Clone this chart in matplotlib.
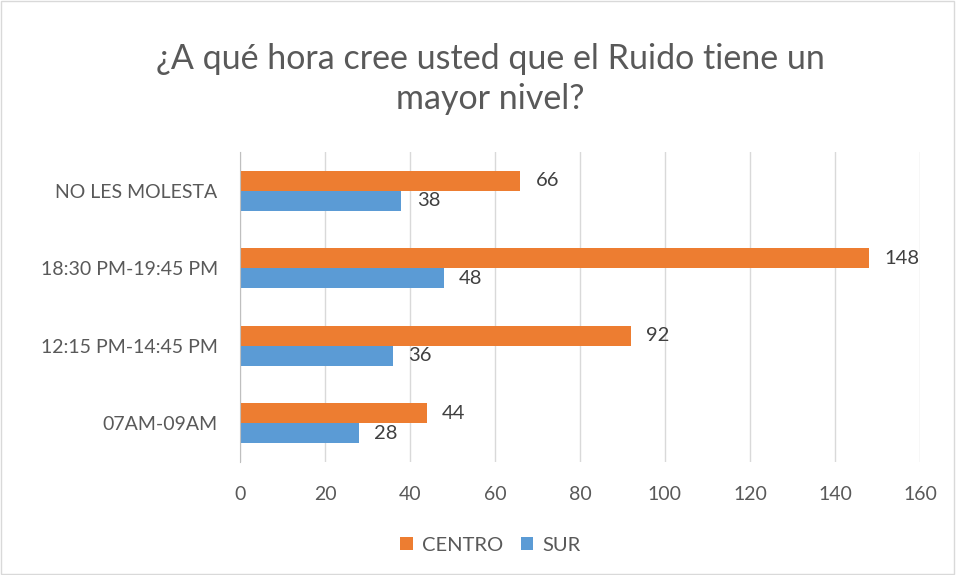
import numpy as np
import matplotlib.pyplot as plt
from matplotlib.patches import Rectangle

plt.rcParams['font.family'] = ['Lato', 'DejaVu Sans']

categorias = ['07AM-09AM', '12:15 PM-14:45 PM', '18:30 PM-19:45 PM', 'NO LES MOLESTA']
centro = [44, 92, 148, 66]
sur = [28, 36, 48, 38]
ticks_x = [0, 20, 40, 60, 80, 100, 120, 140, 160]

fig = plt.figure(figsize=(9.56, 5.75), dpi=100)
fig.patch.set_facecolor('white')
# borde gris del grafico
fig.patches.append(Rectangle((0.001, 0.001), 0.997, 0.997, transform=fig.transFigure,
                             fill=False, edgecolor='#D9D9D9', linewidth=1))

ax = fig.add_axes([0.251, 0.1965, 0.7113, 0.539])
y = np.arange(len(categorias))
h = 0.258
b1 = ax.barh(y + h / 2, centro, height=h, color='#ED7D31', label='CENTRO', zorder=3)
b2 = ax.barh(y - h / 2, sur, height=h, color='#5B9BD5', label='SUR', zorder=3)

# etiquetas de datos
for barras in (b1, b2):
    for r in barras:
        w = r.get_width()
        ax.text(w + 3.6, r.get_y() + r.get_height() / 2, '%d' % w,
                ha='left', va='center', fontsize=14.5, color='#404040')

ax.set_xlim(0, 160)
ax.set_ylim(-0.5, len(categorias) - 0.5)
ax.set_xticks(ticks_x)
ax.set_yticks(y)
ax.set_yticklabels(categorias)
ax.tick_params(axis='both', length=0, labelsize=14, colors='#595959')
ax.tick_params(axis='x', pad=17)
ax.tick_params(axis='y', pad=16)
ax.grid(axis='x', color='#D9D9D9', linewidth=1, zorder=0)
for s in ['top', 'right', 'bottom']:
    ax.spines[s].set_visible(False)
ax.spines['left'].set_color('#BFBFBF')
ax.spines['left'].set_zorder(4)

fig.text(0.513, 0.863, '¿A qué hora cree usted que el Ruido tiene un\nmayor nivel?',
         ha='center', va='center', fontsize=24.5, color='#595959', linespacing=1.3)

fig.legend(handles=[b1, b2], loc='center', bbox_to_anchor=(0.513, 0.052), ncol=2,
           frameon=False, fontsize=14.5, labelcolor='#595959', handlelength=0.6,
           handleheight=0.6, handletextpad=0.45, columnspacing=0.9)

fig.savefig('out.png', dpi=100)
